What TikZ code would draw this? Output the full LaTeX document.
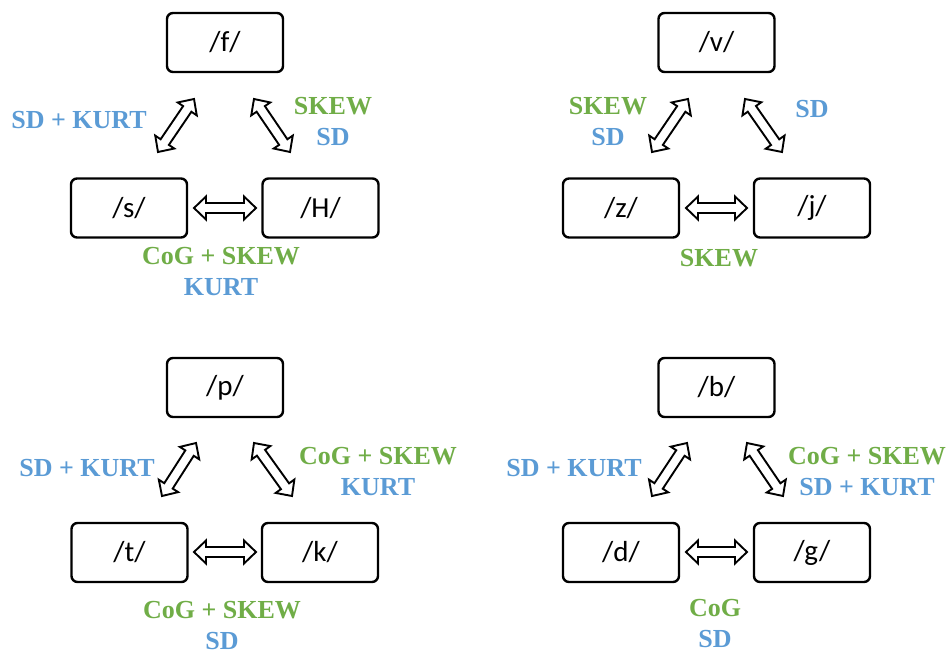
\documentclass[tikz,border=0pt]{standalone}
\usepackage{fontspec}
\setmainfont{Liberation Serif}
\newfontfamily\phonfont{Carlito}
\usetikzlibrary{calc}
\definecolor{lblgreen}{HTML}{70AD47}
\definecolor{lblblue}{HTML}{5B9BD5}
\newcommand\lgreen[1]{\textcolor{lblgreen}{#1}}
\newcommand\lblue[1]{\textcolor{lblblue}{#1}}
\tikzset{
  phon/.style={draw, line width=2.4pt, rounded corners=6pt, minimum width=116pt,
    minimum height=59pt, inner sep=0pt, font=\phonfont\fontsize{29}{34}\selectfont},
  lbl/.style={font=\bfseries\fontsize{26}{31}\selectfont, align=center, inner sep=0pt},
  hollow/.style={draw, line width=1.9pt, fill=white, line join=miter},
}
\newcommand\dblarrow[2]{%
  \path ($(#1)!12pt!(#2)$) coordinate (p1) ($(#2)!12pt!(#1)$) coordinate (q1);
  \draw[hollow] (#1) -- ($(p1)!11.5pt!90:(#2)$) -- ($(p1)!5pt!90:(#2)$)
    -- ($(q1)!5pt!-90:(#1)$) -- ($(q1)!11.5pt!-90:(#1)$) -- (#2)
    -- ($(q1)!11.5pt!90:(#1)$) -- ($(q1)!5pt!90:(#1)$)
    -- ($(p1)!5pt!-90:(#2)$) -- ($(p1)!11.5pt!-90:(#2)$) -- cycle;}
\begin{document}
\begin{tikzpicture}[x=1pt,y=-1pt]
\useasboundingbox (0,0) rectangle (947,650);
% group 1
\node[phon] (f) at (225,42.5) {/f/};
\node[phon] (s) at (129,208) {/s/};
\node[phon] (H) at (320.5,208) {/H/};
\coordinate (fs1) at (158,152); \coordinate (fs2) at (194,99);
\coordinate (fH1) at (254,99); \coordinate (fH2) at (290,152);
\coordinate (sH1) at (194,208); \coordinate (sH2) at (256,208);
\dblarrow{fs1}{fs2}
\dblarrow{fH1}{fH2}
\dblarrow{sH1}{sH2}
\node[lbl] (l1a) at (79,120) {\lblue{SD + KURT}};
\node[lbl] (l1b) at (333,121.5) {\lgreen{SKEW}\\\lblue{SD}};
\node[lbl] (l1c) at (221,272) {\lgreen{CoG + SKEW}\\\lblue{KURT}};
% group 2
\node[phon] (v) at (716.5,42.5) {/v/};
\node[phon] (z) at (621,208) {/z/};
\node[phon] (j) at (812,208) {/j/};
\coordinate (vz1) at (652,152); \coordinate (vz2) at (688,99);
\coordinate (vj1) at (745,99); \coordinate (vj2) at (782,152);
\coordinate (zj1) at (686,208); \coordinate (zj2) at (747,208);
\dblarrow{vz1}{vz2}
\dblarrow{vj1}{vj2}
\dblarrow{zj1}{zj2}
\node[lbl] (l2a) at (608,121.5) {\lgreen{SKEW}\\\lblue{SD}};
\node[lbl] (l2b) at (812,109) {\lblue{SD}};
\node[lbl] (l2c) at (719,258) {\lgreen{SKEW}};
% group 3
\node[phon] (p) at (225,387.5) {/p/};
\node[phon] (t) at (129.5,552.5) {/t/};
\node[phon] (k) at (320,552.5) {/k/};
\coordinate (pt1) at (162,496); \coordinate (pt2) at (196,443);
\coordinate (pk1) at (254,443); \coordinate (pk2) at (292,496);
\coordinate (tk1) at (194,552); \coordinate (tk2) at (256,552);
\dblarrow{pt1}{pt2}
\dblarrow{pk1}{pk2}
\dblarrow{tk1}{tk2}
\node[lbl] (l3a) at (87,468) {\lblue{SD + KURT}};
\node[lbl] (l3b) at (378,471.5) {\lgreen{CoG + SKEW}\\\lblue{KURT}};
\node[lbl] (l3c) at (222,625.5) {\lgreen{CoG + SKEW}\\\lblue{SD}};
% group 4
\node[phon] (b) at (716.5,387.5) {/b/};
\node[phon] (d) at (621,552.5) {/d/};
\node[phon] (g) at (812,552.5) {/g/};
\coordinate (bd1) at (652,496); \coordinate (bd2) at (687,443);
\coordinate (bg1) at (747,443); \coordinate (bg2) at (783,496);
\coordinate (dg1) at (686,552); \coordinate (dg2) at (747,552);
\dblarrow{bd1}{bd2}
\dblarrow{bg1}{bg2}
\dblarrow{dg1}{dg2}
\node[lbl] (l4a) at (574,468) {\lblue{SD + KURT}};
\node[lbl] (l4b) at (867,471.5) {\lgreen{CoG + SKEW}\\\lblue{SD + KURT}};
\node[lbl] (l4c) at (715,623.5) {\lgreen{CoG}\\\lblue{SD}};
\end{tikzpicture}
\end{document}
